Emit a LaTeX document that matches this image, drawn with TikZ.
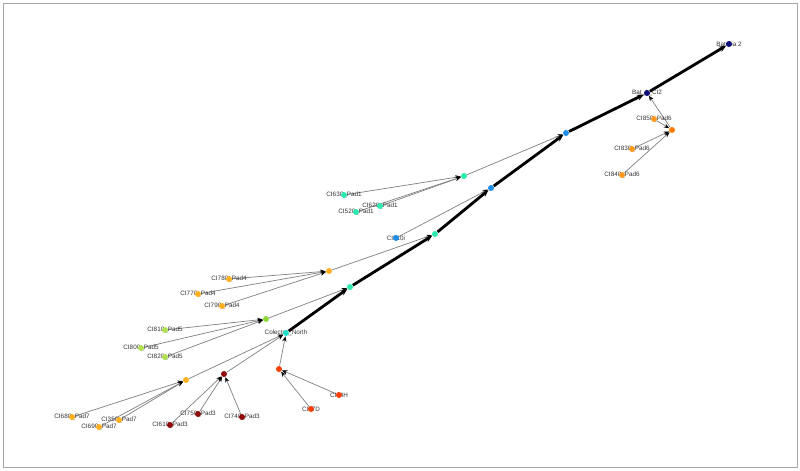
\documentclass[tikz,border=0pt]{standalone}
\usepackage{fontspec}
\setmainfont{Liberation Sans}
\usetikzlibrary{arrows.meta,backgrounds}
\definecolor{batnavy}{HTML}{0B0B7A}
\definecolor{busblue}{HTML}{1E8FE6}
\definecolor{aqua}{HTML}{2EE8B0}
\definecolor{turq}{HTML}{22E0C8}
\definecolor{limeg}{HTML}{8CD838}
\definecolor{limel}{HTML}{B0E050}
\definecolor{ambr}{HTML}{FFB020}
\definecolor{orng}{HTML}{FF7B00}
\definecolor{orngl}{HTML}{FF9A20}
\definecolor{darkr}{HTML}{8E0A0A}
\definecolor{redo}{HTML}{FF3E08}

\begin{document}
\begin{tikzpicture}[x=0.02cm,y=-0.02cm,
      every node/.append style={inner sep=0pt,font=\fontsize{3.6}{4}\selectfont,text=black!80},
      feed/.style={-{Stealth[length=3pt,width=2.4pt,color=black]},draw=black!50,line width=0.4pt},
      trunk/.style={-{Stealth[length=4pt,width=3.4pt]},line width=1.6pt}]
    \tikzstyle{dot} = [circle,minimum size=0.12cm,text=black]
    \useasboundingbox (0,0) rectangle (800,470);
    \draw[black!35] (3,3) rectangle (797,467);
    % battery and main line
    \node (bat2-t) at (729,44) {Bateria 2};
    \node [dot,fill=batnavy] (bat2) at (729,44) {};
    \node (batci2-t) at (647,93) {Bat\_1\_CI2};
    \node [dot,fill=batnavy] (batci2) at (647,93) {};
    \node [dot,fill=busblue] (c4) at (566,133) {};
    \node [dot,fill=busblue] (c3) at (491,188) {};
    \node [dot,fill=aqua] (c2) at (435,234) {};
    \node [dot,fill=aqua] (c1) at (350,287) {};
    \node (coll-t) at (286,333) {Colector\_North};
    \node [dot,fill=turq] (coll) at (286,333) {};
    % pad 6
    \node [dot,fill=orng] (h6) at (672,130) {};
    \node (ci85-t) at (654,119) {CI850\_Pad6};
    \node [dot,fill=orngl] (ci85) at (654,119) {};
    \node (ci83-t) at (632,149) {CI830\_Pad6};
    \node [dot,fill=orngl] (ci83) at (632,149) {};
    \node (ci84-t) at (622,175) {CI840\_Pad6};
    \node [dot,fill=orngl] (ci84) at (622,175) {};
    % pad 1
    \node [dot,fill=aqua] (h1) at (464,176) {};
    \node (ci63-t) at (344,195) {CI630\_Pad1};
    \node [dot,fill=aqua] (ci63) at (344,195) {};
    \node (ci62-t) at (380,206) {CI620\_Pad1};
    \node [dot,fill=aqua] (ci62) at (380,206) {};
    \node (ci52-t) at (356,212) {CI520\_Pad1};
    \node [dot,fill=aqua] (ci52) at (356,212) {};
    \node (ci31-t) at (396,238) {CI310i};
    \node [dot,fill=busblue] (ci31) at (396,238) {};
    % pad 4
    \node [dot,fill=ambr] (h4) at (329,271) {};
    \node (ci78-t) at (229,279) {CI780\_Pad4};
    \node [dot,fill=ambr] (ci78) at (229,279) {};
    \node (ci77-t) at (198,294) {CI770\_Pad4};
    \node [dot,fill=ambr] (ci77) at (198,294) {};
    \node (ci79-t) at (222,306) {CI790\_Pad4};
    \node [dot,fill=ambr] (ci79) at (222,306) {};
    % pad 5
    \node [dot,fill=limeg] (h5) at (266,319) {};
    \node (ci81-t) at (165,330) {CI810\_Pad5};
    \node [dot,fill=limel] (ci81) at (165,330) {};
    \node (ci80-t) at (141,348) {CI800\_Pad5};
    \node [dot,fill=limel] (ci80) at (141,348) {};
    \node (ci82-t) at (165,357) {CI820\_Pad5};
    \node [dot,fill=limel] (ci82) at (165,357) {};
    % pad 7
    \node [dot,fill=ambr] (h7) at (186,380) {};
    \node (ci68-t) at (72,417) {CI680\_Pad7};
    \node [dot,fill=ambr] (ci68) at (72,417) {};
    \node (ci35-t) at (119,420) {CI350\_Pad7};
    \node [dot,fill=ambr] (ci35) at (119,420) {};
    \node (ci69-t) at (99,427) {CI690\_Pad7};
    \node [dot,fill=ambr] (ci69) at (99,427) {};
    % pad 3
    \node [dot,fill=darkr] (h3) at (224,374) {};
    \node (ci75-t) at (198,414) {CI750\_Pad3};
    \node [dot,fill=darkr] (ci75) at (198,414) {};
    \node (ci61-t) at (170,425) {CI610\_Pad3};
    \node [dot,fill=darkr] (ci61) at (170,425) {};
    \node (ci74-t) at (242,417) {CI740\_Pad3};
    \node [dot,fill=darkr] (ci74) at (242,417) {};
    % north
    \node [dot,fill=redo] (hx) at (279,369) {};
    \node (ci64-t) at (339,395) {CI64H};
    \node [dot,fill=redo] (ci64) at (339,395) {};
    \node (ci57-t) at (311,409) {CI57D};
    \node [dot,fill=redo] (ci57) at (311,409) {};

    \begin{pgfonlayer}{background}
      \draw[trunk] (coll) -- (c1);
      \draw[trunk] (c1) -- (c2);
      \draw[trunk] (c2) -- (c3);
      \draw[trunk] (c3) -- (c4);
      \draw[trunk] (c4) -- (batci2);
      \draw[trunk] (batci2) -- (bat2);
      \draw[feed] (h6) -- (batci2);
      \draw[feed] (ci85) -- (h6);
      \draw[feed] (ci83) -- (h6);
      \draw[feed] (ci84) -- (h6);
      \draw[feed] (h1) -- (c4);
      \draw[feed] (ci63) -- (h1);
      \draw[feed] (ci62) -- (h1);
      \draw[feed] (ci52) -- (h1);
      \draw[feed] (ci31) -- (c3);
      \draw[feed] (h4) -- (c2);
      \draw[feed] (ci78) -- (h4);
      \draw[feed] (ci77) -- (h4);
      \draw[feed] (ci79) -- (h4);
      \draw[feed] (h5) -- (c1);
      \draw[feed] (ci81) -- (h5);
      \draw[feed] (ci80) -- (h5);
      \draw[feed] (ci82) -- (h5);
      \draw[feed] (h7) -- (coll);
      \draw[feed] (h3) -- (coll);
      \draw[feed] (hx) -- (coll);
      \draw[feed] (ci68) -- (h7);
      \draw[feed] (ci35) -- (h7);
      \draw[feed] (ci69) -- (h7);
      \draw[feed] (ci75) -- (h3);
      \draw[feed] (ci61) -- (h3);
      \draw[feed] (ci74) -- (h3);
      \draw[feed] (ci64) -- (hx);
      \draw[feed] (ci57) -- (hx);
    \end{pgfonlayer}
  \end{tikzpicture}
\end{document}
